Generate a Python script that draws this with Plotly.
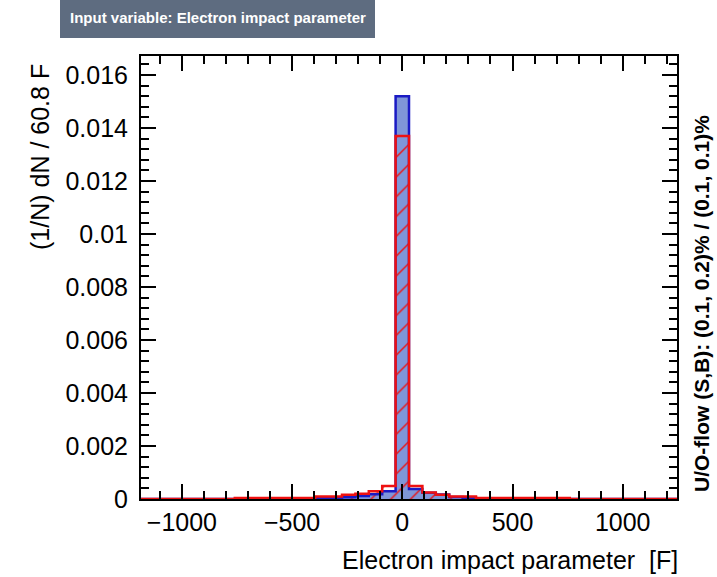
import plotly.graph_objects as go

# ---- data ----
x_min = -1185.6
bin_width = 60.8
n_bins = 40
signal = [0, 0, 0, 0, 0, 0, 0, 0, 0, 0,
          0, 0, 0, 0.00003, 0.00005, 0.00007, 0.00011, 0.00018, 0.00029, 0.0152,
          0.00038, 0.00024, 0.00017, 0.00008, 0.00005, 0.00003, 0.00002, 0, 0, 0,
          0, 0, 0, 0, 0, 0, 0, 0, 0, 0]
background = [0, 0, 0, 0, 0, 0, 0, 0.00004, 0.00004, 0.00004,
              0.00004, 0.00004, 0.00004, 0.00009, 0.00009, 0.00016, 0.0002, 0.00029, 0.00049, 0.0137,
              0.00049, 0.00025, 0.00016, 0.00009, 0.00009, 0.00004, 0.00004, 0.00004, 0.00004, 0.00004,
              0.00004, 0.00004, 0, 0, 0, 0, 0, 0, 0, 0]
x_tick_vals = [-1000, -500, 0, 500, 1000]
x_tick_text = ["\u22121000", "\u2212500", "0", "500", "1000"]
y_tick_vals = [0, 0.002, 0.004, 0.006, 0.008, 0.01, 0.012, 0.014, 0.016]
y_tick_text = ["0", "0.002", "0.004", "0.006", "0.008", "0.01", "0.012", "0.014", "0.016"]
title_text = "Input variable: Electron impact parameter"
x_title = "Electron impact parameter  [F]"
y_title = "(1/N) dN / 60.8 F"
flow_text = "U/O-flow (S,B): (0.1, 0.2)% / (0.1, 0.1)%"

edges = [x_min + i * bin_width for i in range(n_bins + 1)]
centers = [x_min + (i + 0.5) * bin_width for i in range(n_bins)]
x_max = edges[-1]
y_max = 1.1 * max(signal)


def step(vals):
    xs = [edges[0]] + edges[:n_bins] + [edges[n_bins]]
    ys = [0] + list(vals) + [0]
    return xs, ys


FONT = "Liberation Sans, Arial, Helvetica, sans-serif"
SIG_FILL = "#7f96d8"
SIG_LINE = "#1a1ac4"
BKG = "#ee1111"

fig = go.Figure()
fig.add_trace(go.Bar(x=centers, y=signal, width=bin_width,
                     marker=dict(color=SIG_FILL, line=dict(width=0)),
                     showlegend=False))
fig.add_trace(go.Bar(x=centers, y=background, width=bin_width,
                     marker=dict(color="rgba(0,0,0,0)", line=dict(width=0),
                                 pattern=dict(shape="/", fgcolor=BKG, bgcolor="rgba(0,0,0,0)",
                                              size=14, solidity=0.1, fillmode="replace")),
                     showlegend=False))
sx, sy = step(signal)
fig.add_trace(go.Scatter(x=sx, y=sy, mode="lines", line=dict(color=SIG_LINE, width=2.5, shape="hv"),
                         showlegend=False))
bx, by = step(background)
fig.add_trace(go.Scatter(x=bx, y=by, mode="lines", line=dict(color=BKG, width=2.5, shape="hv"),
                         showlegend=False))

L, R, T, B = 141, 677, 56, 499
W, H = 717, 577
pw, ph = R - L, B - T


def px(x):
    return (x - L) / pw


def py(y):
    return (B - y) / ph


axis_common = dict(showline=True, linecolor="black", linewidth=2, mirror="ticks",
                   ticks="inside", ticklen=15, tickwidth=1.5, tickcolor="black",
                   showgrid=False, zeroline=False,
                   tickfont=dict(family=FONT, size=25, color="black"))

fig.update_layout(
    width=W, height=H,
    margin=dict(l=L, r=W - R, t=T, b=H - B, pad=0),
    paper_bgcolor="white", plot_bgcolor="white",
    barmode="overlay", bargap=0,
    xaxis=dict(range=[x_min, x_max], tickmode="array", tickvals=x_tick_vals, ticktext=x_tick_text,
               minor=dict(ticks="inside", ticklen=8, tickwidth=1.5, tickcolor="black", dtick=100,
                          tick0=0, showgrid=False),
               **axis_common),
    yaxis=dict(range=[0, y_max], tickmode="array", tickvals=y_tick_vals, ticktext=y_tick_text,
               minor=dict(ticks="inside", ticklen=8, tickwidth=1.5, tickcolor="black", dtick=0.0004,
                          tick0=0, showgrid=False),
               ticklabelstandoff=6,
               **axis_common),
    shapes=[dict(type="rect", xref="paper", yref="paper",
                 x0=px(60), x1=px(375), y0=py(38), y1=py(0),
                 fillcolor="#5e6c80", line=dict(width=0), layer="below")],
    annotations=[
        dict(text=title_text, xref="paper", yref="paper", x=px(68), y=py(18),
             xanchor="left", yanchor="middle", showarrow=False,
             font=dict(family=FONT, size=15, color="white", weight="bold")),
        dict(text=y_title, xref="paper", yref="paper", x=px(40), y=py(62),
             xanchor="center", yanchor="top", textangle=-90, showarrow=False,
             font=dict(family=FONT, size=25, color="black")),
        dict(text=x_title, xref="paper", yref="paper", x=px(680), y=py(560),
             xanchor="right", yanchor="middle", showarrow=False,
             font=dict(family=FONT, size=25, color="black")),
        dict(text=flow_text, xref="paper", yref="paper", x=px(701), y=py(304),
             xanchor="center", yanchor="middle", textangle=-90, showarrow=False,
             font=dict(family=FONT, size=21, color="black", weight="bold")),
    ],
)

fig.write_html("out.html")
